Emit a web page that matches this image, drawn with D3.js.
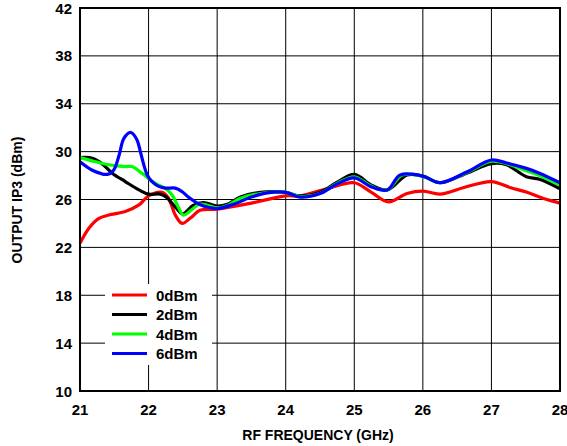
<!DOCTYPE html>
<meta charset="utf-8">
<script src="https://d3js.org/d3.v7.min.js"></script>
<style>
  body { margin: 0; background: white; }
  text { font-family: "Liberation Sans", Arial, sans-serif; font-weight: bold; }
</style>
<div id="chart"></div>
<script>
var xTicks = [21, 22, 23, 24, 25, 26, 27, 28];
var yTicks = [10, 14, 18, 22, 26, 30, 34, 38, 42];

var series = ["0dBm", "2dBm", "4dBm", "6dBm"];
var colors = ["#ff0000", "#000000", "#00ff00", "#0000ff"];

var red = [[21, 22.35], [21.13, 23.6], [21.27, 24.4], [21.42, 24.7], [21.66, 25.0], [21.86, 25.55], [22, 26.3],
  [22.2, 26.6], [22.29, 26.1], [22.39, 24.7], [22.49, 24.0], [22.61, 24.45], [22.75, 25.1], [23, 25.2],
  [23.5, 25.7], [24, 26.3], [24.21, 26.3], [24.6, 26.9], [25, 27.4], [25.25, 26.6], [25.5, 25.8],
  [25.77, 26.5], [26, 26.7], [26.25, 26.45], [26.6, 27.0], [27, 27.5], [27.27, 27.0], [27.52, 26.6],
  [27.75, 26.1], [28, 25.7]];

var black = [[21, 29.5], [21.18, 29.45], [21.32, 29.0], [21.47, 28.2], [21.66, 27.5], [21.86, 26.8], [22, 26.45],
  [22.17, 26.45], [22.26, 26.2], [22.4, 25.3], [22.5, 24.8], [22.65, 25.5], [22.8, 25.75], [23, 25.45],
  [23.15, 25.6], [23.34, 26.2], [23.63, 26.6], [24, 26.6], [24.21, 26.3], [24.5, 26.6], [24.75, 27.45],
  [25, 28.1], [25.25, 27.2], [25.48, 26.8], [25.77, 28.05], [26, 27.95], [26.25, 27.4], [26.64, 28.2],
  [27, 29.0], [27.22, 28.9], [27.51, 27.9], [27.7, 27.7], [28, 26.9]];

var green = [[21, 29.5], [21.23, 29.15], [21.42, 28.9], [21.66, 28.75], [21.76, 28.75], [21.9, 28.2],
  [22.1, 27.35], [22.25, 26.9], [22.34, 26.4], [22.44, 25.3], [22.51, 24.7], [22.75, 25.6], [23, 25.3],
  [23.15, 25.5], [23.34, 26.1], [23.63, 26.5], [24, 26.6], [24.21, 26.25], [24.5, 26.5], [24.75, 27.35],
  [25, 27.9], [25.25, 27.1], [25.48, 26.8], [25.7, 28.05], [26, 27.95], [26.25, 27.4], [26.64, 28.25],
  [27, 29.2], [27.22, 29.0], [27.51, 28.4], [27.7, 28.0], [28, 27.2]];

var blue = [[21, 29.15], [21.18, 28.45], [21.4, 28.1], [21.49, 28.45], [21.57, 29.7], [21.64, 31.1],
  [21.74, 31.6], [21.83, 31.0], [21.88, 30.0], [21.93, 28.9], [21.98, 28.05], [22.05, 27.5], [22.15, 27.1],
  [22.25, 26.95], [22.39, 26.95], [22.49, 26.65], [22.58, 26.2], [22.68, 25.8], [22.8, 25.45], [23, 25.25],
  [23.24, 25.6], [23.5, 26.2], [23.73, 26.55], [24, 26.6], [24.21, 26.2], [24.5, 26.5], [24.75, 27.3],
  [25, 27.8], [25.25, 27.05], [25.48, 26.8], [25.67, 28.05], [26, 27.95], [26.25, 27.4], [26.64, 28.3],
  [27, 29.3], [27.22, 29.05], [27.51, 28.6], [27.7, 28.2], [28, 27.4]];

var allData = [red, black, green, blue];

var W = 567, H = 446;
var pL = 80, pR = 560, pT = 8, pB = 391;

var svg = d3.select("#chart").append("svg")
  .attr("width", W).attr("height", H);

var x = d3.scaleLinear().domain([21, 28]).range([pL, pR]);
var y = d3.scaleLinear().domain([10, 42]).range([pB, pT]);

// grid
svg.append("g").selectAll("line").data(xTicks.slice(1, -1)).enter().append("line")
  .attr("x1", d => x(d)).attr("x2", d => x(d))
  .attr("y1", pT).attr("y2", pB)
  .attr("stroke", "#000").attr("stroke-width", 1);
svg.append("g").selectAll("line").data(yTicks.slice(1, -1)).enter().append("line")
  .attr("x1", pL).attr("x2", pR)
  .attr("y1", d => y(d)).attr("y2", d => y(d))
  .attr("stroke", "#000").attr("stroke-width", 1);

// tick labels
svg.append("g").selectAll("text").data(yTicks).enter().append("text")
  .attr("x", pL - 8).attr("y", d => y(d) + 5.5)
  .attr("text-anchor", "end").style("font-size", "15px")
  .text(d => d);
svg.append("g").selectAll("text").data(xTicks).enter().append("text")
  .attr("x", d => x(d)).attr("y", pB + 24)
  .attr("text-anchor", "middle").style("font-size", "15px")
  .text(d => d);

// axis titles
svg.append("text")
  .attr("x", 318).attr("y", 440)
  .attr("text-anchor", "middle").style("font-size", "14px")
  .text("RF FREQUENCY (GHz)");
svg.append("text")
  .attr("transform", "translate(22,200) rotate(-90)")
  .attr("text-anchor", "middle").style("font-size", "14px")
  .text("OUTPUT IP3 (dBm)");

// legend background
svg.append("rect")
  .attr("x", 105).attr("y", 284).attr("width", 107).attr("height", 81)
  .attr("fill", "white");

// curves
var line = d3.line()
  .x(d => x(d[0])).y(d => y(d[1]))
  .curve(d3.curveCatmullRom.alpha(0.5));

svg.append("g").selectAll("path").data(allData).enter().append("path")
  .attr("d", line)
  .attr("fill", "none")
  .attr("stroke", (d, i) => colors[i])
  .attr("stroke-width", 3.2)
  .attr("stroke-linejoin", "round");

// frame
svg.append("rect")
  .attr("x", pL).attr("y", pT).attr("width", pR - pL).attr("height", pB - pT)
  .attr("fill", "none").attr("stroke", "#000").attr("stroke-width", 2);

// legend
var lg = svg.append("g").selectAll("g").data(series).enter().append("g")
  .attr("transform", (d, i) => "translate(0," + (295 + i * 19.5) + ")");
lg.append("line")
  .attr("x1", 112).attr("x2", 147).attr("y1", 0).attr("y2", 0)
  .attr("stroke", (d, i) => colors[i]).attr("stroke-width", 3);
lg.append("text")
  .attr("x", 156).attr("y", 5.5).style("font-size", "15px")
  .text(d => d);
</script>
